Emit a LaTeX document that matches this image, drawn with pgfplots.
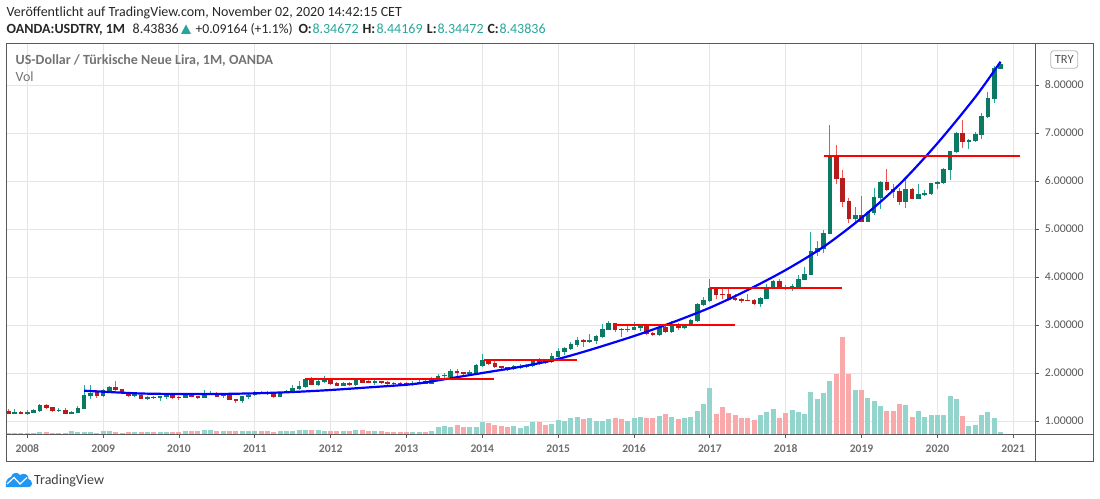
\documentclass[border=0pt]{standalone}
\usepackage{fontspec}
\setmainfont{Carlito}
\usepackage{pgfplots}
\usepackage{pgfplotstable}
\pgfplotsset{compat=1.18}
\definecolor{bodyup}{HTML}{0B7A65}
\definecolor{bodydn}{HTML}{B71C1C}
\definecolor{wickup}{HTML}{26A69A}
\definecolor{wickdn}{HTML}{EF5350}
\definecolor{volup}{HTML}{93D4CD}
\definecolor{voldn}{HTML}{F9A9A9}
\definecolor{gridc}{HTML}{E5E5E5}
\definecolor{framec}{HTML}{5A5A5A}
\definecolor{labelc}{HTML}{555555}
\definecolor{tvblue}{HTML}{2196F3}
\pgfplotstableread{
i o h l c v
-2 1.153 1.243 1.146 1.194 .743
0 1.153 1.222 1.132 1.187 .743
1 1.167 1.250 1.160 1.229 .743
2 1.208 1.354 1.194 1.333 .771
5 1.215 1.271 1.187 1.236 .743
7 1.153 1.215 1.146 1.187 .792
8 1.174 1.306 1.160 1.271 .771
9 1.250 1.750 1.250 1.542 .771
10 1.521 1.750 1.465 1.583 .771
12 1.528 1.667 1.507 1.646 .792
13 1.611 1.729 1.604 1.708 .792
17 1.528 1.604 1.500 1.556 .771
19 1.465 1.514 1.444 1.493 .771
21 1.486 1.521 1.424 1.514 .771
22 1.493 1.562 1.465 1.542 .771
25 1.486 1.576 1.472 1.556 .792
28 1.486 1.646 1.472 1.569 .812
29 1.556 1.625 1.535 1.576 .812
31 1.514 1.562 1.486 1.542 .792
34 1.417 1.528 1.382 1.514 .792
35 1.500 1.562 1.465 1.542 .792
36 1.535 1.618 1.528 1.604 .792
40 1.507 1.611 1.500 1.597 .792
41 1.590 1.646 1.576 1.625 .792
42 1.597 1.750 1.590 1.681 .792
43 1.667 1.826 1.653 1.729 .812
44 1.708 1.882 1.694 1.868 .812
46 1.750 1.889 1.736 1.833 .812
47 1.812 1.937 1.799 1.889 .792
50 1.736 1.819 1.729 1.799 .792
52 1.757 1.882 1.736 1.868 .812
55 1.785 1.854 1.757 1.833 .792
61 1.757 1.826 1.729 1.799 .771
62 1.792 1.847 1.778 1.820 .771
64 1.778 1.910 1.771 1.875 .792
65 1.854 1.972 1.840 1.938 .875
66 1.931 1.993 1.889 1.951 .896
67 1.910 2.076 1.896 2.035 .875
70 1.979 2.063 1.951 2.021 .875
71 1.993 2.181 1.979 2.160 .875
72 2.146 2.396 2.125 2.271 .979
77 2.083 2.167 2.063 2.139 .896
78 2.111 2.181 2.090 2.153 .854
79 2.125 2.188 2.097 2.167 .896
80 2.146 2.299 2.125 2.278 .979
83 2.222 2.410 2.201 2.347 .938
84 2.326 2.521 2.257 2.458 1.021
85 2.438 2.542 2.368 2.521 1.000
86 2.500 2.639 2.479 2.604 1.062
87 2.583 2.743 2.549 2.688 1.083
89 2.646 2.806 2.632 2.681 1.062
90 2.667 2.799 2.611 2.771 1.000
91 2.750 3.021 2.736 2.910 1.000
92 2.903 3.076 2.889 3.035 1.042
95 2.903 2.986 2.847 2.917 1.000
96 2.903 3.063 2.889 2.951 1.062
97 2.931 3.000 2.868 2.979 1.083
100 2.792 2.965 2.771 2.951 1.104
102 2.854 3.090 2.840 3.000 1.083
104 2.931 3.021 2.910 3.000 1.062
105 2.986 3.118 2.972 3.104 1.083
106 3.083 3.452 3.070 3.438 1.208
107 3.424 3.590 3.396 3.521 1.354
108 3.500 3.965 3.486 3.771 1.687
116 3.438 3.590 3.382 3.562 1.125
117 3.549 3.854 3.535 3.792 1.187
118 3.778 3.937 3.764 3.917 1.250
121 3.757 3.854 3.708 3.812 1.229
122 3.778 4.042 3.757 3.958 1.187
123 3.944 4.201 3.931 4.062 1.146
124 4.049 4.938 4.035 4.535 1.604
125 4.521 4.757 4.444 4.604 1.458
126 4.583 4.979 4.507 4.917 1.583
127 4.896 7.174 4.896 6.535 1.833
131 5.201 5.451 5.153 5.285 1.646
133 5.153 5.368 5.139 5.354 1.479
134 5.340 5.854 5.292 5.667 1.417
135 5.653 6.000 5.424 5.979 1.312
139 5.569 6.035 5.444 5.833 1.333
141 5.632 5.938 5.618 5.729 1.208
142 5.701 5.812 5.681 5.750 1.083
143 5.736 5.965 5.708 5.951 1.125
144 5.944 6.000 5.833 5.979 1.125
145 5.958 6.278 5.944 6.250 1.125
146 6.236 6.625 6.021 6.625 1.521
147 6.604 7.021 6.576 7.007 1.458
149 6.819 6.875 6.667 6.854 0.896
150 6.826 7.028 6.819 6.979 0.917
151 6.965 7.410 6.875 7.354 1.125
152 7.333 7.861 7.319 7.729 1.187
153 7.708 8.396 7.632 8.354 1.062
154 8.340 8.479 8.333 8.431 0.771
}\upbars
\pgfplotstableread{
i o h l c v
-3 1.215 1.243 1.146 1.153 .743
-1 1.194 1.208 1.146 1.153 .743
3 1.333 1.347 1.257 1.271 .771
4 1.285 1.299 1.187 1.208 .743
6 1.229 1.264 1.146 1.153 .757
11 1.597 1.646 1.479 1.528 .743
14 1.708 1.833 1.625 1.646 .771
15 1.660 1.674 1.556 1.583 .743
16 1.597 1.611 1.507 1.528 .771
18 1.542 1.576 1.451 1.458 .771
20 1.500 1.521 1.458 1.479 .771
23 1.542 1.549 1.465 1.479 .771
24 1.500 1.521 1.444 1.479 .771
26 1.556 1.576 1.500 1.507 .792
27 1.514 1.528 1.465 1.486 .792
30 1.583 1.597 1.500 1.507 .792
32 1.535 1.549 1.438 1.444 .792
33 1.451 1.458 1.382 1.424 .792
37 1.604 1.625 1.562 1.576 .792
38 1.604 1.618 1.542 1.556 .792
39 1.562 1.576 1.486 1.500 .771
45 1.847 1.910 1.743 1.757 .812
48 1.875 1.903 1.757 1.771 .792
49 1.792 1.806 1.729 1.736 .792
51 1.799 1.819 1.736 1.750 .792
53 1.854 1.875 1.785 1.799 .812
54 1.840 1.854 1.785 1.799 .792
56 1.826 1.840 1.771 1.792 .792
57 1.812 1.833 1.757 1.778 .771
58 1.792 1.812 1.750 1.771 .771
59 1.785 1.812 1.736 1.764 .771
60 1.785 1.806 1.736 1.757 .771
63 1.826 1.868 1.764 1.778 .771
68 2.042 2.076 1.924 2.000 .917
69 2.014 2.028 1.951 1.979 .875
73 2.271 2.285 2.167 2.188 .958
74 2.208 2.257 2.111 2.125 .917
75 2.139 2.153 2.076 2.097 .896
76 2.118 2.132 2.049 2.070 .875
81 2.285 2.306 2.160 2.215 .979
82 2.271 2.299 2.188 2.215 .917
88 2.688 2.715 2.535 2.646 1.042
93 3.035 3.049 2.854 2.896 1.062
94 2.917 2.938 2.750 2.910 1.042
98 2.986 3.007 2.799 2.813 1.062
99 2.833 2.861 2.771 2.792 1.062
101 2.951 2.972 2.826 2.854 1.146
103 3.007 3.035 2.896 2.931 1.042
109 3.771 3.792 3.535 3.625 1.146
110 3.646 3.785 3.549 3.632 1.292
111 3.646 3.764 3.507 3.528 1.167
112 3.556 3.639 3.507 3.521 1.125
113 3.535 3.556 3.465 3.500 1.062
114 3.521 3.646 3.500 3.507 1.062
115 3.528 3.549 3.424 3.438 1.021
119 3.910 3.951 3.757 3.778 1.062
120 3.785 3.840 3.729 3.771 1.167
128 6.535 6.750 5.938 6.042 1.986
129 6.062 6.229 5.465 5.562 2.750
130 5.583 5.639 5.132 5.215 1.986
132 5.292 5.694 5.146 5.153 1.646
136 5.979 6.250 5.799 5.812 1.208
137 5.833 5.938 5.653 5.764 1.208
138 5.792 5.847 5.500 5.569 1.354
140 5.833 5.847 5.618 5.632 1.083
148 7.000 7.271 6.688 6.819 1.104
}\dnbars
\newcommand\cand[5]{%
 \addplot[forget plot,draw=none,mark=none,error bars/.cd,y dir=plus,y explicit,error mark=none,
   error bar style={draw=#3,line width=1pt}] table[x=i,y=l,y error expr=\thisrow{h}-\thisrow{l}] {#1};
 \addplot[forget plot,draw=none,mark=none,error bars/.cd,y dir=plus,y explicit,error mark=none,
   error bar style={draw=#2,line width=4.6pt}] table[x=i,y=#4,y error expr=\thisrow{#5}-\thisrow{#4}] {#1};
}
\begin{document}
\begin{tikzpicture}[x=1pt,y=1pt]
\path[use as bounding box] (0,0) rectangle (1100,498);
\begin{axis}[
  at={(6.5pt,63.7pt)},anchor=south west,scale only axis,width=1028.8pt,height=391pt,
  xmin=-3.291,xmax=159.49,ymin=0.723,ymax=8.869,
  axis line style={draw=framec,line width=1pt},
  xtick={0,12,...,156},
  xticklabels={2008,2009,2010,2011,2012,2013,2014,2015,2016,2017,2018,2019,2020,2021},
  ytick={1,2,3,4,5,6,7,8},
  yticklabels={1.00000,2.00000,3.00000,4.00000,5.00000,6.00000,7.00000,8.00000},
  xtick pos=lower,ytick pos=right,tick align=outside,
  major tick length=3.5pt,
  tick style={draw=framec,line width=.8pt},
  grid=major,grid style={draw=gridc,line width=1pt},
  axis on top=false,
  xticklabel style={font=\fontsize{11.6}{14}\selectfont\bfseries,text=labelc!85,yshift=-3.5pt},
  yticklabel style={font=\fontsize{11.8}{14}\selectfont,text=labelc,xshift=2.5pt},
  clip=true,
]
\addplot[forget plot,ycomb,draw=volup,line width=5pt,mark=none] table[x=i,y=v] {\upbars};
\addplot[forget plot,ycomb,draw=voldn,line width=5pt,mark=none] table[x=i,y=v] {\dnbars};
\cand{\upbars}{bodyup}{wickup}{o}{c}
\cand{\dnbars}{bodydn}{wickdn}{c}{o}
\addplot[forget plot,draw=blue,line width=2.2pt,smooth,tension=0.5,mark=none] coordinates {
(9,1.631)(12,1.610)(18,1.573)(24,1.5625)(30,1.5625)(36,1.577)(42,1.604)(48,1.646)(54.2,1.702)(60,1.755)(62.1,1.785)(67.4,1.90)(72,2.00)(78,2.13)(83.3,2.27)(88.5,2.46)(96,2.77)(101.7,3.035)(108,3.36)(114,3.73)(120,4.146)(126,4.63)(132,5.23)(138,5.93)(144,6.785)(150,7.75)(154,8.486)};
\addplot[forget plot,draw=red,line width=2pt] coordinates {(44,1.87)(73.8,1.87)};
\addplot[forget plot,draw=red,line width=2pt] coordinates {(72.2,2.278)(87,2.278)};
\addplot[forget plot,draw=red,line width=2pt] coordinates {(92.6,3.0)(112,3.0)};
\addplot[forget plot,draw=red,line width=2pt] coordinates {(108,3.771)(128.9,3.771)};
\addplot[forget plot,draw=red,line width=2pt] coordinates {(126,6.52)(157,6.52)};
\end{axis}
\begin{scope}[shift={(0,498)},y=-1pt]
 % outer frame
 \draw[framec,line width=1pt] (6.5,43.3) rectangle (1093,461);
 \draw[framec,line width=1pt] (6.5,434.3) -- (1093,434.3);
 \draw[framec,line width=1pt] (1035.3,43.3) -- (1035.3,461);
 % currency tag
 \draw[gridc!80!black,line width=.8pt,rounded corners=3pt,fill=white] (1050.7,50.7) rectangle (1077.7,68.3);
 \node[anchor=base,text=labelc,font=\fontsize{12.5}{14}\selectfont,inner sep=0pt] at (1064.2,64) {TRY};
 % header
 \node[anchor=base west,inner sep=0pt,text=black!85,font=\fontsize{14}{15}\selectfont] at (6.5,17) {Veröffentlicht auf TradingView.com, November 02, 2020 14:42:15 CET};
 \node[anchor=base west,inner sep=0pt,text=black!85,font=\fontsize{14}{15}\selectfont\bfseries] at (6.5,34) {OANDA:USDTRY, 1M};
 \node[anchor=base west,inner sep=0pt,text=black!85,font=\fontsize{14}{15}\selectfont] at (132.5,34) {8.43836};
 \fill[wickup] (181,34) -- (191,34) -- (186,24.5) -- cycle;
 \node[anchor=base west,inner sep=0pt,text=black!85,font=\fontsize{13.7}{15}\selectfont] at (195.3,34) {+0.09164 (+1.1\%)};
 \node[anchor=base west,inner sep=0pt,text=black!85,font=\fontsize{14}{15}\selectfont\bfseries] at (298.3,34) {O:};
 \node[anchor=base west,inner sep=0pt,text=wickup,font=\fontsize{14}{15}\selectfont] at (312.3,34) {8.34672};
 \node[anchor=base west,inner sep=0pt,text=black!85,font=\fontsize{14}{15}\selectfont\bfseries] at (362.3,34) {H:};
 \node[anchor=base west,inner sep=0pt,text=wickup,font=\fontsize{14}{15}\selectfont] at (376.3,34) {8.44169};
 \node[anchor=base west,inner sep=0pt,text=black!85,font=\fontsize{14}{15}\selectfont\bfseries] at (426.7,34) {L:};
 \node[anchor=base west,inner sep=0pt,text=wickup,font=\fontsize{14}{15}\selectfont] at (437.3,34) {8.34472};
 \node[anchor=base west,inner sep=0pt,text=black!85,font=\fontsize{14}{15}\selectfont\bfseries] at (487.3,34) {C:};
 \node[anchor=base west,inner sep=0pt,text=wickup,font=\fontsize{14}{15}\selectfont] at (499.3,34) {8.43836};
 % inner title
 \node[anchor=base west,inner sep=0pt,text=black!55,font=\fontsize{14}{15}\selectfont\bfseries] at (15.5,65) {US-Dollar / Türkische Neue Lira, 1M, OANDA};
 \node[anchor=base west,inner sep=0pt,text=black!55,font=\fontsize{14}{15}\selectfont] at (15.5,81.5) {Vol};
 % logo
 \fill[tvblue] (6,487) .. controls (5,480) and (8,478) .. (11,477) .. controls (12,473) and (17,471) .. (20,475)
   .. controls (24,472) and (29,475) .. (28.5,479) .. controls (33,480) and (33,487) .. (29,487) -- cycle;
 \draw[white,line width=1.2pt] (7,484) -- (14,477.5) -- (20,484) -- (27,477.5);
 \node[anchor=base west,inner sep=0pt,text=black!75,font=\fontsize{14}{16}\selectfont] at (34,484.5) {TradingView};
\end{scope}
\end{tikzpicture}
\end{document}
